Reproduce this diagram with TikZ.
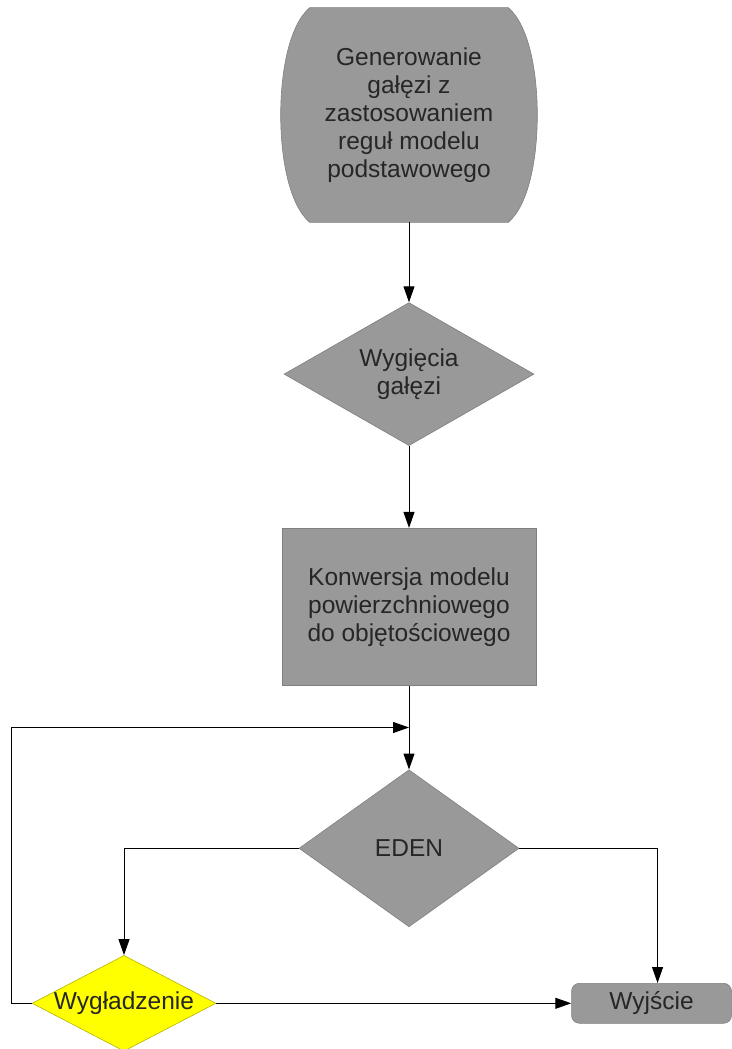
\documentclass[tikz,border=0pt]{standalone}
\usepackage{fontspec}
\setmainfont{Liberation Sans}
\usetikzlibrary{arrows.meta,positioning,shapes.geometric,backgrounds}
\definecolor{szary}{RGB}{153,153,153}
\definecolor{ramka}{RGB}{128,128,128}
\definecolor{zolty}{RGB}{255,255,0}
\definecolor{zramka}{RGB}{180,180,0}
\tikzset{
    %Define standard arrow tip
    >={Triangle[length=16pt,width=11pt]},
    %Define style for boxes
    blok/.style={
           rectangle,
           fill=szary,
           draw=ramka, line width=0.6pt,
           align=center,
           text=black!85,
           font=\fontsize{24.5}{28}\selectfont},
    romb/.style={
           blok,
           diamond,
           inner sep=2pt},
    % Define arrow style
    pil/.style={
           ->,
           line width=1pt}
}
\begin{document}
\begin{tikzpicture}[x=1pt,y=1pt]
        \useasboundingbox (0,0) rectangle (731,-1049);
         %nodes
          \node[blok, draw=none, fill=none, minimum width=256pt, minimum height=214pt] (gen) at (409,-115)
          {Generowanie\\gałęzi z\\zastosowaniem\\reguł modelu\\podstawowego};
          \node[romb, aspect=1.75, minimum width=250pt, minimum height=143pt, below=80pt of gen] (wyg) {Wygięcia\\gałęzi};
          \node[blok, minimum width=254pt, minimum height=157pt, below=82pt of wyg] (konw)
          {Konwersja modelu\\powierzchniowego\\do objętościowego};
          \node[romb, aspect=1.4, minimum width=220pt, minimum height=157pt, below=84pt of konw] (eden) {EDEN};
          \node[romb, fill=zolty, draw=zramka, inner sep=0pt, aspect=1.92, minimum width=182pt,
                minimum height=95pt, below=28pt of eden, xshift=-285pt] (wygl) {Wygładzenie};
          \node[blok, rounded corners=8pt, minimum width=160pt, minimum height=40pt, right=355pt of wygl] (wyj) {Wyjście};
         %outline of the first box
          \begin{scope}[on background layer]
          \filldraw[fill=szary, draw=ramka, line width=0.6pt]
            ([xshift=29pt]gen.north west) -- ([xshift=-29pt]gen.north east)
            .. controls ([xshift=-9pt,yshift=-17pt]gen.north east) and ([yshift=45pt]gen.east) .. (gen.east)
            .. controls ([yshift=-45pt]gen.east) and ([xshift=-9pt,yshift=17pt]gen.south east) .. ([xshift=-29pt]gen.south east)
            -- ([xshift=29pt]gen.south west)
            .. controls ([xshift=9pt,yshift=17pt]gen.south west) and ([yshift=-45pt]gen.west) .. (gen.west)
            .. controls ([yshift=45pt]gen.west) and ([xshift=9pt,yshift=-17pt]gen.north west) .. cycle;
          \end{scope}
         %connectors
          \coordinate[below=42pt of konw] (join);
          \coordinate[left=20pt of wygl] (back);
          \draw[pil] (gen) -- (wyg);
          \draw[pil] (wyg) -- (konw);
          \draw[pil] (konw) -- (eden);
          \draw[pil] (wygl.west) -- (back) |- (join);
          \draw[pil] (eden.west) -| (wygl.north);
          \draw[pil] (eden.east) -| ([xshift=6pt]wyj.north);
          \draw[pil] (wygl) -- (wyj);
\end{tikzpicture}
\end{document}
